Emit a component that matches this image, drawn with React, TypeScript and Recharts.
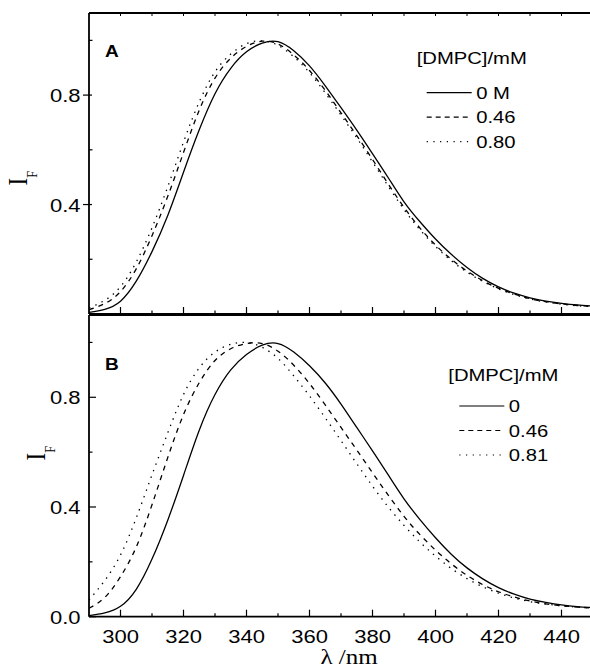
import { LineChart, Line, XAxis, YAxis, Legend } from "recharts";

// wavelength grid, nm
const wavelengths = [
  290, 295, 300, 305, 310, 315, 320, 325, 330, 335, 340, 345, 350, 355, 360, 365, 370,
  375, 380, 385, 390, 395, 400, 405, 410, 415, 420, 425, 430, 435, 440, 445, 450,
];

// panel A
const a0 = [
  0.006, 0.017, 0.047, 0.12, 0.228, 0.36, 0.518, 0.673, 0.805, 0.898, 0.958, 0.99, 0.995,
  0.962, 0.907, 0.834, 0.754, 0.672, 0.586, 0.498, 0.41, 0.338, 0.274, 0.218, 0.17, 0.13,
  0.099, 0.076, 0.059, 0.047, 0.039, 0.033, 0.029,
];
const a046 = [
  0.016, 0.038, 0.082, 0.165, 0.286, 0.43, 0.59, 0.745, 0.862, 0.935, 0.978, 0.997, 0.987,
  0.947, 0.89, 0.817, 0.735, 0.652, 0.565, 0.475, 0.39, 0.315, 0.252, 0.2, 0.157, 0.122,
  0.094, 0.073, 0.056, 0.045, 0.037, 0.031, 0.028,
];
const a080 = [
  0.022, 0.05, 0.1, 0.19, 0.315, 0.465, 0.628, 0.775, 0.885, 0.95, 0.988, 0.998, 0.982,
  0.94, 0.882, 0.808, 0.727, 0.644, 0.556, 0.467, 0.382, 0.309, 0.247, 0.195, 0.153, 0.119,
  0.092, 0.071, 0.055, 0.044, 0.036, 0.03, 0.027,
];

// panel B
const b0 = [
  0.004, 0.014, 0.038, 0.1, 0.21, 0.352, 0.515, 0.68, 0.81, 0.9, 0.956, 0.99, 0.996,
  0.965, 0.915, 0.852, 0.775, 0.69, 0.605, 0.517, 0.43, 0.355, 0.288, 0.228, 0.178, 0.138,
  0.106, 0.082, 0.064, 0.052, 0.043, 0.037, 0.033,
];
const b046 = [
  0.031, 0.07, 0.146, 0.254, 0.408, 0.58, 0.737, 0.853, 0.934, 0.977, 0.996, 0.996, 0.968,
  0.917, 0.85, 0.772, 0.69, 0.608, 0.525, 0.443, 0.366, 0.3, 0.243, 0.193, 0.151, 0.117,
  0.091, 0.072, 0.057, 0.047, 0.04, 0.035, 0.032,
];
const b081 = [
  0.061, 0.132, 0.225, 0.36, 0.517, 0.67, 0.81, 0.907, 0.965, 0.993, 1.0, 0.982, 0.942,
  0.878, 0.805, 0.725, 0.642, 0.558, 0.476, 0.4, 0.333, 0.273, 0.221, 0.176, 0.139, 0.109,
  0.086, 0.068, 0.055, 0.046, 0.04, 0.035, 0.032,
];

const xTicks = [290, 300, 310, 320, 330, 340, 350, 360, 370, 380, 390, 400, 410, 420, 430, 440, 450];
const xLabelled = [300, 320, 340, 360, 380, 400, 420, 440];
const yTicks = [0, 0.2, 0.4, 0.6, 0.8, 1.0];
const yLabelledA = [0.4, 0.8];
const yLabelledB = [0, 0.4, 0.8];
const legendTitle = "[DMPC]/mM";
const legendA = ["0 M", "0.46", "0.80"];
const legendB = ["0", "0.46", "0.81"];

const SANS = "'Liberation Sans', Arial, Helvetica, sans-serif";
const SERIF = "'Liberation Serif', 'Times New Roman', serif";
const SX = 1.19; // the original figure is stretched sideways
const lineDash = [undefined, "5 5", "1.4 5.5"];
const legendDash = [undefined, "5 4", "1.2 5.5"];

const rowsA = wavelengths.map((w, i) => ({ w, s0: a0[i], s1: a046[i], s2: a080[i] }));
const rowsB = wavelengths.map((w, i) => ({ w, s0: b0[i], s1: b046[i], s2: b081[i] }));

function BottomTick(props: any) {
  const { x, y, payload, showLabels } = props;
  const v = payload.value;
  if (v === 290 || v === 450) return <g />;
  const major = xLabelled.includes(v);
  return (
    <g>
      <line x1={x} x2={x} y1={y} y2={y - (major ? 7 : 3.5)} stroke="#000" strokeWidth={1.2} />
      {showLabels && major && (
        <text
          transform={`translate(${x},${y + 26.6}) scale(${SX},1)`}
          textAnchor="middle"
          fontFamily={SANS}
          fontSize={18.5}
          fill="#000"
        >
          {v}
        </text>
      )}
    </g>
  );
}

function TopTick(props: any) {
  const { x, y, payload } = props;
  if (payload.value === 290 || payload.value === 450) return <g />;
  return <line x1={x} x2={x} y1={y} y2={y + 3} stroke="#000" strokeWidth={1} />;
}

function LeftTick(props: any) {
  const { x, y, payload, labelled, outward } = props;
  const v = payload.value;
  const major = labelled.includes(v);
  let x1 = x;
  let x2 = x + 3.5;
  if (major) {
    x1 = outward ? x - 6 : x;
    x2 = outward ? x + 3 : x + 7;
  }
  return (
    <g>
      <line x1={x1} x2={x2} y1={y} y2={y} stroke="#000" strokeWidth={1.2} />
      {major && (
        <text
          transform={`translate(${x - 8.5},${y + 7}) scale(${SX},1)`}
          textAnchor="end"
          fontFamily={SANS}
          fontSize={18.5}
          fill="#000"
        >
          {v.toFixed(1)}
        </text>
      )}
    </g>
  );
}

function IFLabel({ bx, by }: { bx: number; by: number }) {
  return (
    <text transform={`translate(${bx},${by}) scale(${SX},1) rotate(-90)`} fontFamily={SERIF} fill="#000">
      <tspan fontSize={23}>I</tspan>
      <tspan fontSize={12.5} dy={8.4}>F</tspan>
    </text>
  );
}

function XTitle() {
  return (
    <text
      transform={`translate(349,364) scale(${SX},1)`}
      textAnchor="middle"
      fontFamily={SERIF}
      fontSize={21}
      fill="#000"
    >
      λ /nm
    </text>
  );
}

function PanelLegend({ names, tx, ty, lx, ly }: { names: string[]; tx: number; ty: number; lx: number; ly: number }) {
  return (
    <svg width={170} height={130} style={{ overflow: "visible" }}>
      <text transform={`translate(${tx},${ty}) scale(${SX},1)`} fontFamily={SANS} fontSize={17} fill="#000">
        {legendTitle}
      </text>
      {names.map((n, i) => (
        <g key={n}>
          <line
            x1={lx}
            x2={lx + 45}
            y1={ly + i * 24.5}
            y2={ly + i * 24.5}
            stroke="#000"
            strokeWidth={1.2}
            strokeDasharray={legendDash[i]}
          />
          <text
            transform={`translate(${lx + 49.5},${ly + i * 24.5 + 6}) scale(${SX},1)`}
            fontFamily={SANS}
            fontSize={17}
            fill="#000"
          >
            {n}
          </text>
        </g>
      ))}
    </svg>
  );
}

const axisStroke = { stroke: "#000", strokeWidth: 1.8 };

export default function App() {
  return (
    <div style={{ position: "absolute", left: 0, top: 0, width: 590, height: 672, overflow: "hidden", background: "#fff" }}>
      <div style={{ position: "absolute", left: 0, top: 0 }}>
        <LineChart width={600} height={320} data={rowsA} margin={{ top: 12, right: 7, bottom: 5, left: 0 }}>
          <XAxis
            dataKey="w"
            type="number"
            domain={[290, 450]}
            ticks={xTicks}
            interval={0}
            height={1}
            tickSize={0}
            tickMargin={0}
            tickLine={false}
            axisLine={axisStroke}
            tick={(p: any) => <BottomTick {...p} showLabels={false} />}
            allowDataOverflow
          />
          <XAxis
            xAxisId="top"
            orientation="top"
            dataKey="w"
            type="number"
            domain={[290, 450]}
            ticks={xTicks}
            interval={0}
            height={1}
            tickSize={0}
            tickMargin={0}
            tickLine={false}
            axisLine={axisStroke}
            tick={(p: any) => <TopTick {...p} />}
            allowDataOverflow
          />
          <YAxis
            type="number"
            domain={[0, 1.1]}
            ticks={yTicks}
            interval={0}
            width={89}
            tickSize={0}
            tickMargin={0}
            tickLine={false}
            axisLine={axisStroke}
            tick={(p: any) => <LeftTick {...p} labelled={yLabelledA} outward />}
            label={<IFLabel bx={27} by={185.5} />}
            allowDataOverflow
          />
          <Legend
            layout="vertical"
            align="center"
            verticalAlign="middle"
            wrapperStyle={{ position: "absolute", left: 410, top: 40, width: 170, height: 130 }}
            content={() => <PanelLegend names={legendA} tx={6.7} ty={24} lx={16.7} ly={52.7} />}
          />
          <Line dataKey="s0" name="0 M" type="natural" stroke="#000" strokeWidth={1.3} dot={false} isAnimationActive={false} />
          <Line dataKey="s1" name="0.46" type="natural" stroke="#000" strokeWidth={1.3} strokeDasharray={lineDash[1]} dot={false} isAnimationActive={false} />
          <Line dataKey="s2" name="0.80" type="natural" stroke="#000" strokeWidth={1.3} strokeDasharray={lineDash[2]} dot={false} isAnimationActive={false} />
        </LineChart>
      </div>
      <div style={{ position: "absolute", left: 0, top: 300 }}>
        <LineChart width={600} height={372} data={rowsB} margin={{ top: 14, right: 7, bottom: 0, left: 0 }}>
          <XAxis
            dataKey="w"
            type="number"
            domain={[290, 450]}
            ticks={xTicks}
            interval={0}
            height={55.3}
            tickSize={0}
            tickMargin={0}
            tickLine={false}
            axisLine={axisStroke}
            tick={(p: any) => <BottomTick {...p} showLabels />}
            label={<XTitle />}
            allowDataOverflow
          />
          <XAxis
            xAxisId="top"
            orientation="top"
            dataKey="w"
            type="number"
            domain={[290, 450]}
            ticks={xTicks}
            height={1}
            tick={false}
            tickLine={false}
            axisLine={axisStroke}
            allowDataOverflow
          />
          <YAxis
            type="number"
            domain={[0, 1.1]}
            ticks={yTicks}
            interval={0}
            width={89}
            tickSize={0}
            tickMargin={0}
            tickLine={false}
            axisLine={axisStroke}
            tick={(p: any) => <LeftTick {...p} labelled={yLabelledB} outward={false} />}
            label={<IFLabel bx={45} by={160.5} />}
            allowDataOverflow
          />
          <Legend
            layout="vertical"
            align="center"
            verticalAlign="middle"
            wrapperStyle={{ position: "absolute", left: 440, top: 50, width: 170, height: 130 }}
            content={() => <PanelLegend names={legendB} tx={8.3} ty={31} lx={19.3} ly={56} />}
          />
          <Line dataKey="s0" name="0" type="natural" stroke="#000" strokeWidth={1.3} dot={false} isAnimationActive={false} />
          <Line dataKey="s1" name="0.46" type="natural" stroke="#000" strokeWidth={1.3} strokeDasharray={lineDash[1]} dot={false} isAnimationActive={false} />
          <Line dataKey="s2" name="0.81" type="natural" stroke="#000" strokeWidth={1.3} strokeDasharray={lineDash[2]} dot={false} isAnimationActive={false} />
        </LineChart>
      </div>
      <svg width={590} height={672} style={{ position: "absolute", left: 0, top: 0, pointerEvents: "none" }}>
        <text transform={`translate(105,57) scale(${SX},1)`} fontFamily={SANS} fontSize={16} fontWeight="bold" fill="#000">
          A
        </text>
        <text transform={`translate(105,370) scale(${SX},1)`} fontFamily={SANS} fontSize={16} fontWeight="bold" fill="#000">
          B
        </text>
      </svg>
    </div>
  );
}
